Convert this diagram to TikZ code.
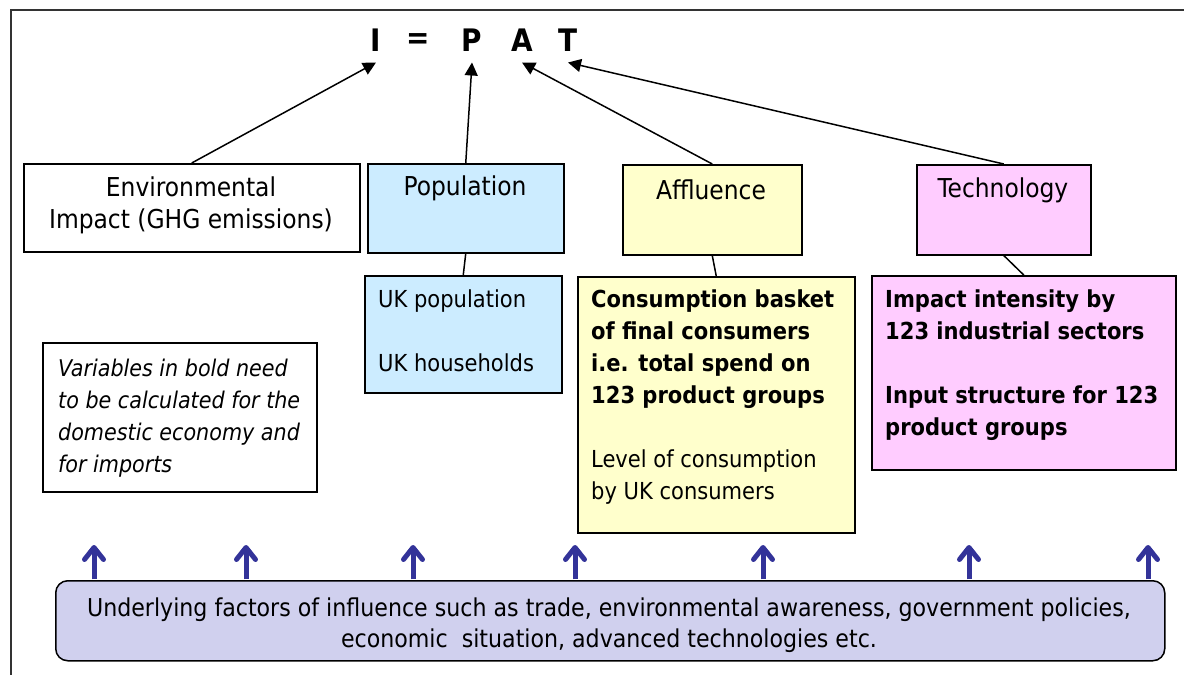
\documentclass[tikz,border=0pt]{standalone}
\usepackage{fontspec}
\setmainfont{DejaVu Sans Condensed}
\usepackage{tikz}
\usetikzlibrary{arrows.meta}
\definecolor{popblue}{RGB}{204,236,255}
\definecolor{affyellow}{RGB}{255,255,204}
\definecolor{techpink}{RGB}{255,204,255}
\definecolor{factorlilac}{RGB}{208,208,238}
\definecolor{factorblue}{RGB}{51,51,153}
\tikzset{
    box/.style={draw=black, line width=1.5pt, inner sep=0pt, anchor=north west},
    boxtext/.style={anchor=north west, align=left, inner sep=0pt,
        font=\fontsize{23.4}{32}\selectfont},
    title/.style={align=center, inner sep=0pt, font=\fontsize{26}{32}\selectfont},
    letter/.style={inner sep=0pt, font=\fontsize{31}{31}\selectfont\bfseries},
    pointer/.style={draw=black, line width=1.5pt, -{Triangle[length=13pt,width=13pt]}},
    link/.style={draw=black, line width=1.5pt},
    factor/.style={draw=factorblue, line width=5pt, shorten <=0.75pt,
        -{Straight Barb[length=12pt,width=19pt,line cap=round,line join=round]}},
    frame/.style={draw=black!80, line width=1.5pt},
}

\begin{document}
\begin{tikzpicture}[x=1pt, y=-1pt]
\useasboundingbox (0,0) rectangle (1184,675);
\draw[frame] (11,675) -- (11,10) -- (1184,10);

\node[letter] (I) at (376,40) {I};
\node[letter] (eq) at (418,41) {=};
\node[letter] (P) at (472,40) {P};
\node[letter] (A) at (522,40) {A};
\node[letter] (T) at (568,40) {T};

\node[box, minimum width=336pt, minimum height=88pt] (env) at (23,163) {};
\node[box, fill=popblue, minimum width=196pt, minimum height=89pt] (pop) at (367,163) {};
\node[box, fill=affyellow, minimum width=179pt, minimum height=90pt] (aff) at (622,164) {};
\node[box, fill=techpink, minimum width=174pt, minimum height=90pt] (tech) at (916,164) {};
\node[title] (envtext) at (191,205) {Environmental\\Impact (GHG emissions)};
\node[title] (poptext) at (465,188) {Population};
\node[title] (afftext) at (711,190) {Affluence};
\node[title] (techtext) at (1003,190) {Technology};

\node[box, fill=popblue, minimum width=197pt, minimum height=117pt] (popd) at (364,275) {};
\node[box, fill=affyellow, minimum width=277pt, minimum height=256pt] (affd) at (577,276) {};
\node[box, fill=techpink, minimum width=304pt, minimum height=194pt] (techd) at (871,275) {};
\node[boxtext] (popdtext) at (378,290) {UK population\\[32pt]UK households};
\node[boxtext] (affdtext) at (591,290) {\bfseries Consumption basket\\\bfseries of final consumers\\
    \bfseries i.e. total spend on\\\bfseries 123 product groups\\[32pt]
    Level of consumption\\by UK consumers};
\node[boxtext] (techdtext) at (885,290) {\bfseries Impact intensity by\\\bfseries 123 industrial sectors\\[32pt]
    \bfseries Input structure for 123\\\bfseries product groups};

\node[box, minimum width=274pt, minimum height=149pt] (note) at (42,342) {};
\node[boxtext, font=\fontsize{23}{32}\selectfont\itshape] (notetext) at (58,359)
    {Variables in bold need\\to be calculated for the\\domestic economy and\\for imports};

\draw[pointer] (env.north) -- ([yshift=-11pt]I.south);
\draw[pointer] (pop.north) -- ([yshift=-11pt]P.south);
\draw[pointer] (aff.north) -- ([yshift=-11pt]A.south);
\draw[pointer] (tech.north) -- ([yshift=-11pt]T.south);
\draw[link] (pop.south) -- (popd.north);
\draw[link] (aff.south) -- (affd.north);
\draw[link] (tech.south) -- (techd.north);

\node[box, fill=factorlilac, rounded corners=12pt, minimum width=1109pt, minimum height=80pt] (factors) at (55,580) {};
\node[title, font=\fontsize{24.6}{31}\selectfont] (factorstext) at (609,625) {Underlying factors of influence such as trade, environmental awareness, government policies,\\
    economic~ situation, advanced technologies etc.};
\foreach \x in {94,246,413,575,763,969,1148}{
    \coordinate (tip) at (\x,545);
    \draw[factor] (tip |- factors.north) -- (tip);
}
\end{tikzpicture}
\end{document}
